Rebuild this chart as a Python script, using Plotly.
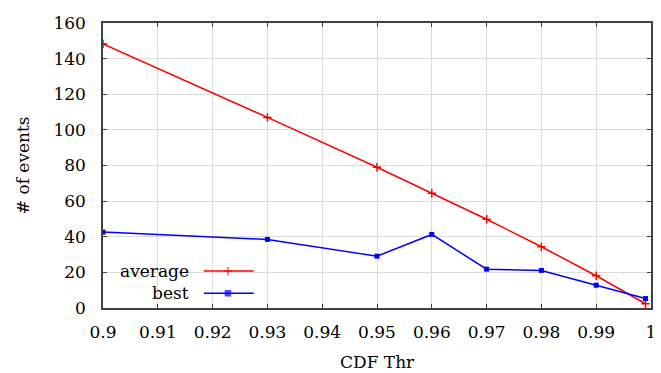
import plotly.graph_objects as go

thresholds = [0.9, 0.93, 0.95, 0.96, 0.97, 0.98, 0.99, 0.999]
average = [148.3, 107.0, 79.0, 64.4, 49.8, 34.4, 18.1, 2.4]
best = [42.6, 38.5, 29.1, 41.3, 21.8, 21.1, 12.8, 5.3]
x_ticks = [0.9, 0.91, 0.92, 0.93, 0.94, 0.95, 0.96, 0.97, 0.98, 0.99, 1.0]
x_tick_labels = ["0.9", "0.91", "0.92", "0.93", "0.94", "0.95", "0.96", "0.97", "0.98", "0.99", "1"]
y_ticks = [0, 20, 40, 60, 80, 100, 120, 140, 160]

FONT = "DejaVu Serif"
FS = 17
RED = "#ff0000"
BLUE = "#0000ff"

fig = go.Figure()
fig.add_trace(go.Scatter(
    x=thresholds, y=average, mode="lines+markers", name="average",
    line=dict(color=RED, width=1.5),
    marker=dict(symbol="cross-thin-open", size=6, line=dict(color=RED, width=1.5)),
    showlegend=False,
))
fig.add_trace(go.Scatter(
    x=thresholds, y=best, mode="lines+markers", name="best",
    line=dict(color=BLUE, width=1.5),
    marker=dict(symbol="square", size=5, color=BLUE),
    showlegend=False,
))

# gnuplot-style key: label on the left, sample on the right
key_x = [0.184, 0.228, 0.275]
key_rows = [("average", 0.1295, RED, "cross-thin-open", 6),
            ("best", 0.052, BLUE, "square", 5)]
for label, ky, col, sym, sz in key_rows:
    fig.add_trace(go.Scatter(
        x=key_x, y=[ky] * 3, xaxis="x2", yaxis="y2", mode="lines+markers",
        line=dict(color=col, width=1.5),
        marker=dict(symbol=sym, size=[0, sz, 0], color=col, line=dict(color=col, width=1.5)),
        showlegend=False, hoverinfo="skip",
    ))
    fig.add_annotation(x=0.160, y=ky, xref="paper", yref="paper", text=label,
                       showarrow=False, xanchor="right", yanchor="middle",
                       font=dict(family=FONT, size=FS, color="#000"))

# axis titles
fig.add_annotation(x=0.5, y=-0.19, xref="paper", yref="paper", text="CDF Thr",
                   showarrow=False, xanchor="center", yanchor="middle",
                   font=dict(family=FONT, size=FS, color="#000"))
fig.add_annotation(x=-0.1465, y=0.5, xref="paper", yref="paper", text="# of events",
                   showarrow=False, xanchor="center", yanchor="middle", textangle=-90,
                   font=dict(family=FONT, size=FS, color="#000"))

# page has an 8px body margin, so the figure is 8px smaller and shifted
fig.update_layout(
    width=653, height=365,
    margin=dict(l=95, r=5, t=12, b=65),
    paper_bgcolor="white", plot_bgcolor="white",
    font=dict(family=FONT, size=FS, color="#000"),
    xaxis=dict(
        range=[0.9, 1.0], tickvals=x_ticks, ticktext=x_tick_labels,
        tickfont=dict(family=FONT, size=FS, color="#000"),
        showgrid=True, gridcolor="#dcdcdc", gridwidth=1,
        showline=True, linecolor="#404040", linewidth=1.5, mirror="ticks",
        ticks="inside", ticklen=4, tickcolor="#404040",
        zeroline=False, ticklabelstandoff=8,
    ),
    yaxis=dict(
        range=[0, 160], tickvals=y_ticks,
        tickfont=dict(family=FONT, size=FS, color="#000"),
        showgrid=True, gridcolor="#dcdcdc", gridwidth=1,
        showline=True, linecolor="#404040", linewidth=1.5, mirror="ticks",
        ticks="inside", ticklen=4, tickcolor="#404040",
        zeroline=False, ticklabelstandoff=12,
    ),
    xaxis2=dict(range=[0, 1], overlaying="x", visible=False, fixedrange=True),
    yaxis2=dict(range=[0, 1], overlaying="y", visible=False, fixedrange=True),
)

fig.write_html("out.html")
